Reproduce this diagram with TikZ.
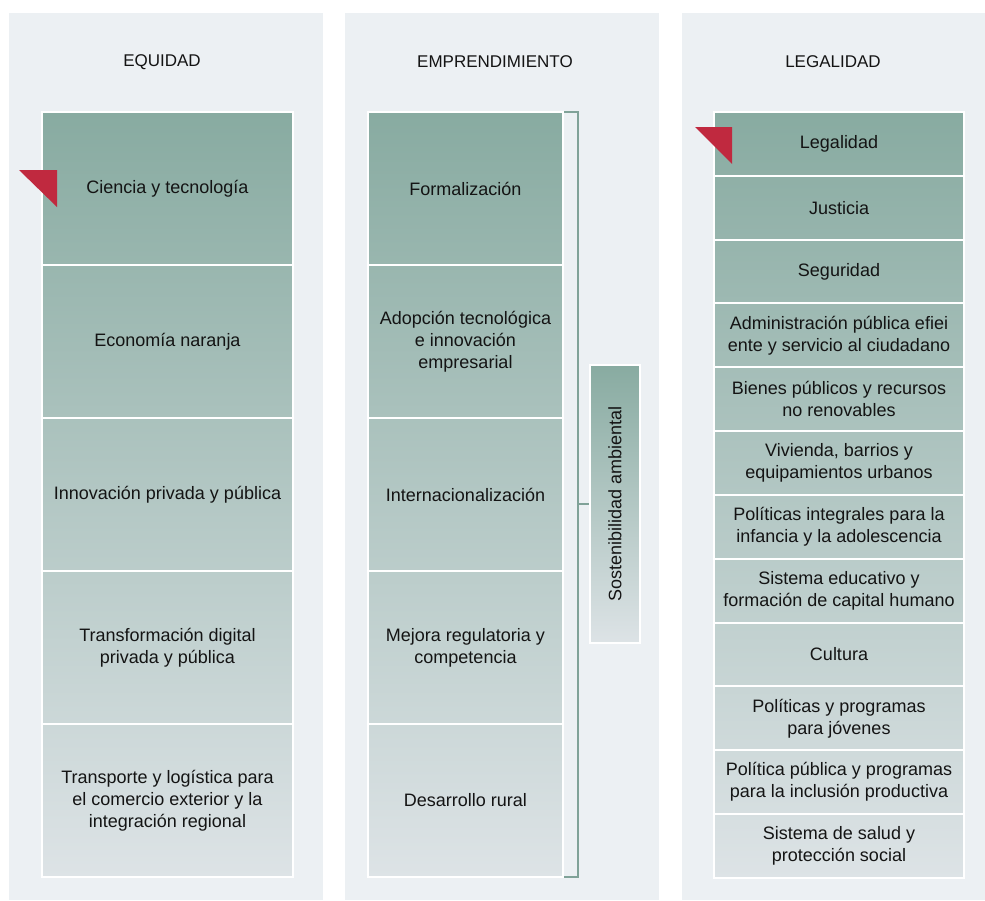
\documentclass[tikz,border=0pt]{standalone}
\usepackage{fontspec}
\setmainfont{Liberation Sans}
\begin{document}
\begin{tikzpicture}[x=1pt,y=-1pt,
  panel/.style={fill=panelbg,draw=none},
  cell/.style={draw=white,line width=2pt,inner sep=1pt,align=center,text=txt,
    font=\fontsize{18}{22}\selectfont},
  title/.style={text=txt,font=\fontsize{17}{20}\selectfont},
  flag/.style={fill=flagred,draw=none},
  brk/.style={draw=brkc,line width=1.3pt}]
\definecolor{panelbg}{RGB}{236,240,243}
\definecolor{gA}{RGB}{136,171,161}
\definecolor{gB}{RGB}{221,227,230}
\definecolor{txt}{RGB}{20,20,20}
\definecolor{flagred}{RGB}{192,41,63}
\definecolor{brkc}{RGB}{128,162,152}
\useasboundingbox[fill=white] (0,0) rectangle (985,900);
% panels
\fill[panel] (9,13) rectangle (323,900);
\fill[panel] (345,13) rectangle (659,900);
\fill[panel] (682,13) rectangle (985,900);
% titles
\node[title] (t1) at (162,62) {EQUIDAD};
\node[title] (t2) at (495,62) {EMPRENDIMIENTO};
\node[title] (t3) at (833,62) {LEGALIDAD};
% column 1
\foreach \i/\t in {1/{Ciencia y tecnología},2/{Economía naranja},3/{Innovación privada y pública},4/{Transformación digital\\privada y pública},5/{Transporte y logística para\\el comercio exterior y la\\integración regional}}{
  \pgfmathsetmacro{\pa}{20*(\i-1)}
  \pgfmathsetmacro{\pb}{20*\i}
  \pgfmathsetmacro{\yc}{112+153*(\i-0.5)}
  \node[cell,minimum width=251pt,minimum height=153pt,top color=gB!\pa!gA,bottom color=gB!\pb!gA] (a\i) at (167.5,\yc) {\t};
}
% column 2
\foreach \i/\t in {1/{Formalización},2/{Adopción tecnológica\\e innovación\\empresarial},3/{Internacionalización},4/{Mejora regulatoria y\\competencia},5/{Desarrollo rural}}{
  \pgfmathsetmacro{\pa}{20*(\i-1)}
  \pgfmathsetmacro{\pb}{20*\i}
  \pgfmathsetmacro{\yc}{112+153*(\i-0.5)}
  \node[cell,minimum width=195pt,minimum height=153pt,top color=gB!\pa!gA,bottom color=gB!\pb!gA] (b\i) at (465.5,\yc) {\t};
}
% column 3
\foreach \i/\t in {1/{Legalidad},2/{Justicia},3/{Seguridad},4/{Administración pública efiei\\ente y servicio al ciudadano},5/{Bienes públicos y recursos\\no renovables},6/{Vivienda, barrios y\\equipamientos urbanos},7/{Políticas integrales para la\\infancia y la adolescencia},8/{Sistema educativo y\\formación de capital humano},9/{Cultura},10/{Políticas y programas\\para jóvenes},11/{Política pública y programas\\para la inclusión productiva},12/{Sistema de salud y\\protección social}}{
  \pgfmathsetmacro{\pa}{100*(\i-1)/12}
  \pgfmathsetmacro{\pb}{100*\i/12}
  \pgfmathsetmacro{\yc}{112+63.83*(\i-0.5)}
  \node[cell,minimum width=250pt,minimum height=63.83pt,top color=gB!\pa!gA,bottom color=gB!\pb!gA] (c\i) at (839,\yc) {\t};
}
% red flags
\fill[flag] (19,170) -- (57,170) -- (57,207) -- cycle;
\fill[flag] (695,127) -- (732,127) -- (732,164) -- cycle;
% sostenibilidad box
\node[draw=white,line width=2pt,minimum width=50pt,minimum height=278pt,inner sep=0pt,top color=gA,bottom color=gB] (s) at (615,504) {};
\node[rotate=90,text=txt,font=\fontsize{18}{20}\selectfont] (st) at (s.center) {Sostenibilidad ambiental};
% bracket
\coordinate (bt) at (564,112);
\coordinate (bb) at (564,877);
\coordinate (bm) at (578,504);
\draw[brk] (bt) -- ++(14,0) |- (bb);
\draw[brk] (bm) -- (s.west);
\end{tikzpicture}
\end{document}
